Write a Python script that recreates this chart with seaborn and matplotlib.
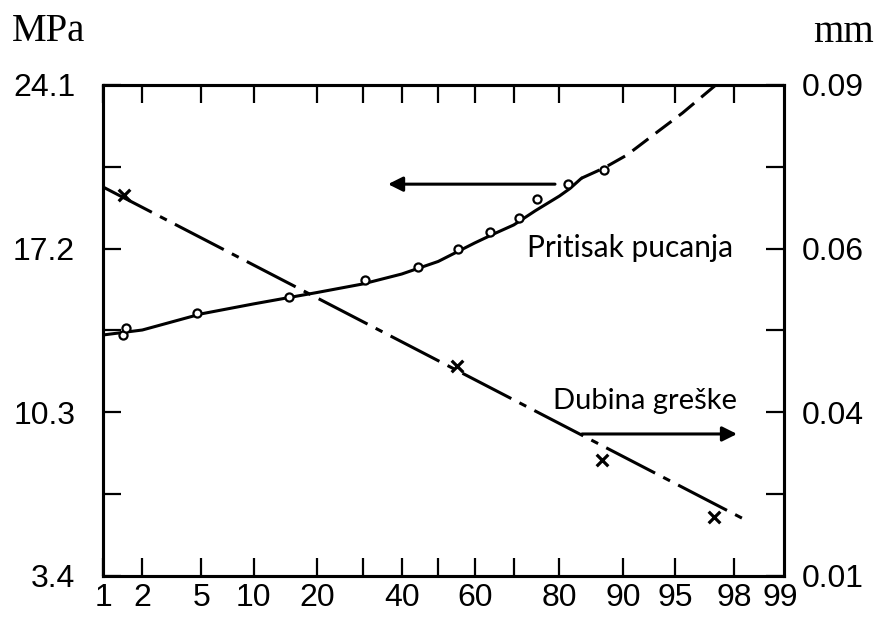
import math
import numpy as np
import pandas as pd
import matplotlib
matplotlib.use("Agg")
import matplotlib.pyplot as plt
import matplotlib.transforms as mtransforms
import seaborn as sns

# cumulative probability (%) vs burst pressure (MPa) - measured points
circle_prob = [1.44, 1.5, 4.7, 15.1, 30.5, 44.3, 55.4, 64.0, 71.2, 75.3, 81.6, 87.5]
circle_mpa = [13.56, 13.86, 14.49, 15.16, 15.88, 16.43, 17.19, 17.90, 18.49, 19.29, 19.93, 20.52]

# fitted burst pressure curve (solid part, then dashed extrapolation)
fit_prob = [1, 2, 5, 10, 20, 30, 40, 50, 60, 65, 70, 75, 80, 82, 84]
fit_mpa = [13.56, 13.77, 14.45, 14.87, 15.35, 15.71, 16.13, 16.66, 17.44, 17.82, 18.2,
           18.8, 19.42, 19.74, 20.17]
ext_prob = [84, 87.5, 90.5, 93.8, 95.5, 97.3]
ext_mpa = [20.17, 20.6, 21.15, 22.2, 22.92, 24.1]

# defect depth (mm)
cross_prob = [1.47, 55.1, 87.2, 97.2]
cross_mm = [0.0698, 0.0457, 0.0313, 0.0209]
depth_line_prob = [1, 98.25]
depth_line_mm = [0.0713, 0.0206]

x_ticks = [1, 2, 5, 10, 20, 40, 60, 80, 90, 95, 98, 99]
x_minor = [30, 50, 70]
mpa_ticks = [3.4, 10.3, 17.2, 24.1]
mpa_minor = [6.85, 13.75, 20.65]
mm_ticks = [0.01, 0.04, 0.06, 0.09]
mm_minor = [0.025, 0.05, 0.075]


# normal probability scale
_a = [-3.969683028665376e+01, 2.209460984245205e+02, -2.759285104469687e+02,
      1.383577518672690e+02, -3.066479806614716e+01, 2.506628277459239e+00]
_b = [-5.447609879822406e+01, 1.615858368580409e+02, -1.556989798598866e+02,
      6.680131188771972e+01, -1.328068155288572e+01]
_c = [-7.784894002430293e-03, -3.223964580411365e-01, -2.400758277161838e+00,
      -2.549671039733562e+00, 4.374664141464968e+00, 2.938163982698783e+00]
_d = [7.784695709041462e-03, 3.224671290700398e-01, 2.445134137142996e+00,
      3.754408661907416e+00]


def _ppf(p):
    p = min(max(p, 1e-9), 1 - 1e-9)
    if p < 0.02425:
        q = math.sqrt(-2 * math.log(p))
        return (((((_c[0]*q+_c[1])*q+_c[2])*q+_c[3])*q+_c[4])*q+_c[5]) / \
               ((((_d[0]*q+_d[1])*q+_d[2])*q+_d[3])*q+1)
    if p > 1 - 0.02425:
        q = math.sqrt(-2 * math.log(1 - p))
        return -(((((_c[0]*q+_c[1])*q+_c[2])*q+_c[3])*q+_c[4])*q+_c[5]) / \
                ((((_d[0]*q+_d[1])*q+_d[2])*q+_d[3])*q+1)
    q = p - 0.5
    r = q * q
    return (((((_a[0]*r+_a[1])*r+_a[2])*r+_a[3])*r+_a[4])*r+_a[5])*q / \
           (((((_b[0]*r+_b[1])*r+_b[2])*r+_b[3])*r+_b[4])*r+1)


_ppf_v = np.vectorize(lambda v: _ppf(v / 100.0), otypes=[float])
_cdf_v = np.vectorize(lambda z: 50.0 * (1 + math.erf(z / math.sqrt(2))), otypes=[float])


def prob_fwd(v):
    return _ppf_v(np.asarray(v, dtype=float))


def prob_inv(z):
    return _cdf_v(np.asarray(z, dtype=float))


# right axis labels are not linear: piecewise mapping onto the left grid
_mm_pts = np.array(mm_ticks)
_pos_pts = np.arange(len(mm_ticks), dtype=float)


def _pw(v, xp, fp):
    v = np.asarray(v, dtype=float)
    out = np.interp(v, xp, fp)
    lo = (fp[1] - fp[0]) / (xp[1] - xp[0])
    hi = (fp[-1] - fp[-2]) / (xp[-1] - xp[-2])
    out = np.where(v < xp[0], fp[0] + (v - xp[0]) * lo, out)
    out = np.where(v > xp[-1], fp[-1] + (v - xp[-1]) * hi, out)
    return out


def mm_fwd(v):
    return _pw(v, _mm_pts, _pos_pts)


def mm_inv(v):
    return _pw(v, _pos_pts, _mm_pts)


sns.set_style("white")
plt.rcParams['font.family'] = ['Liberation Sans', 'DejaVu Sans']

fig = plt.figure(figsize=(8.85, 6.18), dpi=100)
ax = fig.add_axes([0.1164, 0.0680, 0.7695, 0.7945])
ax.set_xscale('function', functions=(prob_fwd, prob_inv))

fit_df = pd.DataFrame({'p': fit_prob, 'mpa': fit_mpa})
ext_df = pd.DataFrame({'p': ext_prob, 'mpa': ext_mpa})
circ_df = pd.DataFrame({'p': circle_prob, 'mpa': circle_mpa})

sns.lineplot(data=fit_df, x='p', y='mpa', ax=ax, color='black', lw=2.2, sort=False)
sns.lineplot(data=ext_df, x='p', y='mpa', ax=ax, color='black', lw=2.2, sort=False,
             linestyle=(0, (6.5, 3)))
sns.scatterplot(data=circ_df, x='p', y='mpa', ax=ax, marker='o', s=34,
                facecolor='white', edgecolor='black', linewidth=1.6, zorder=5)

ax.set_xlim(1, 99.18)
ax.set_ylim(3.4, 24.1)
ax.set_xticks(x_ticks)
ax.set_xticklabels([str(t) for t in x_ticks])
ax.set_xticks(x_minor, minor=True)
ax.set_yticks(mpa_ticks)
ax.set_yticklabels([f"{t:.1f}" for t in mpa_ticks])
ax.set_yticks(mpa_minor, minor=True)
ax.set_xlabel('')
ax.set_ylabel('')

ax.tick_params(axis='both', which='both', direction='in', length=13, width=1.6,
               color='black', labelsize=23, labelcolor='black')
ax.tick_params(axis='x', which='both', top=True, bottom=True, pad=5)
ax.tick_params(axis='y', which='both', left=True, right=False, pad=20)
last = ax.xaxis.get_major_ticks()[-1]
last.tick1line.set_visible(False)
last.tick2line.set_visible(False)
# "99" sits at the right corner of the axis
ax.get_xticklabels()[-1].set_transform(
    ax.get_xticklabels()[-1].get_transform()
    + mtransforms.ScaledTranslation(7 / 100, 0, fig.dpi_scale_trans))

ax2 = ax.twinx()
ax2.set_yscale('function', functions=(mm_fwd, mm_inv))
cross_df = pd.DataFrame({'p': cross_prob, 'mm': cross_mm})
line_df = pd.DataFrame({'p': depth_line_prob, 'mm': depth_line_mm})
sns.lineplot(data=line_df, x='p', y='mm', ax=ax2, color='black', lw=2.2, sort=False,
             linestyle=(0, (18, 3, 2.5, 3)))
sns.scatterplot(data=cross_df, x='p', y='mm', ax=ax2, marker='x', s=70,
                color='black', linewidth=2.3, zorder=5)
ax2.set_xlim(1, 99.18)
ax2.set_ylim(0.01, 0.09)
ax2.set_yticks(mm_ticks)
ax2.set_yticklabels([f"{t:.2f}" for t in mm_ticks])
ax2.set_yticks(mm_minor, minor=True)
ax2.yaxis.set_minor_formatter(matplotlib.ticker.NullFormatter())
ax2.set_ylabel('')
ax2.set_xlabel('')
ax2.tick_params(axis='y', which='both', direction='in', length=13, width=1.6,
                color='black', labelsize=23, labelcolor='black', pad=13)

for a in (ax, ax2):
    for sp in a.spines.values():
        sp.set_visible(True)
        sp.set_color('black')
        sp.set_linewidth(2.2)

# arrows and series labels
ax.annotate('', xy=(0.4185, 0.798), xytext=(0.6637, 0.798), xycoords='axes fraction',
            arrowprops=dict(arrowstyle='-|>', color='black', lw=2.2,
                            mutation_scale=22, shrinkA=0, shrinkB=0))
ax.annotate('', xy=(0.931, 0.2892), xytext=(0.7034, 0.2892), xycoords='axes fraction',
            arrowprops=dict(arrowstyle='-|>', color='black', lw=2.2,
                            mutation_scale=22, shrinkA=0, shrinkB=0))
ax.text(0.6226, 0.65, 'Pritisak pucanja', transform=ax.transAxes, family=['Lato', 'DejaVu Sans'],
        fontsize=21.5, ha='left', va='baseline', color='black')
ax.text(0.6608, 0.340, 'Dubina greške', transform=ax.transAxes, family=['Lato', 'DejaVu Sans'],
        fontsize=21, ha='left', va='baseline', color='black')

fig.text(0.0136, 0.9337, 'MPa', family=['Liberation Serif', 'DejaVu Serif'], fontsize=28,
         ha='left', va='baseline', color='black')
fig.text(0.9186, 0.932, 'mm', family=['Liberation Serif', 'DejaVu Serif'], fontsize=28,
         ha='left', va='baseline', color='black')

fig.savefig('out.png', dpi=100)
